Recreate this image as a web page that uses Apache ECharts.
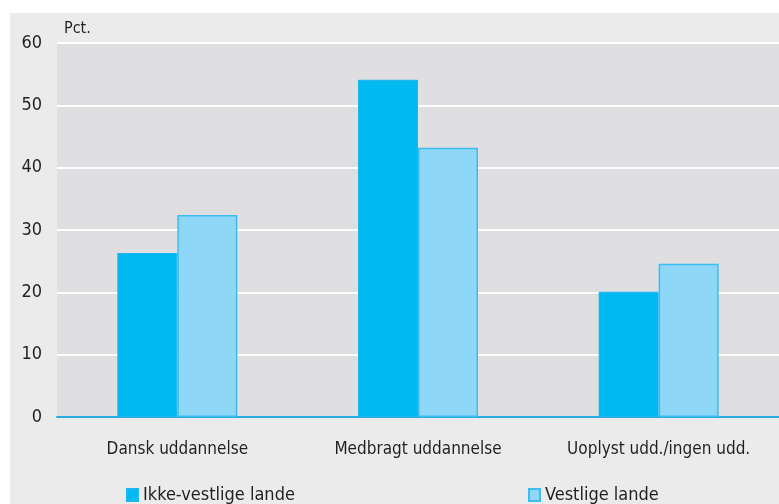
<!DOCTYPE html>
<html>
<head>
<meta charset="utf-8">
<script src="https://cdn.jsdelivr.net/npm/echarts@6/dist/echarts.min.js"></script>
<style>
  html, body { margin: 0; padding: 0; background: #ffffff; }
  #chart { width: 779px; height: 504px; }
</style>
</head>
<body>
<div id="chart"></div>
<script>
// kategorier og værdier (pct.)
const categories = ['Dansk uddannelse', 'Medbragt uddannelse', 'Uoplyst udd./ingen udd.']
const ikkeVestlige = [26.3, 54.1, 20.1]
const vestlige = [32.4, 43.2, 24.6]
const yTicks = [0, 10, 20, 30, 40, 50, 60]

const font = '"DejaVu Sans Condensed", "Liberation Sans Narrow", sans-serif'
const textColor = '#231f20'

const chart = echarts.init(document.getElementById('chart'), null, { renderer: 'canvas' })

const option = {
  animation: false,
  backgroundColor: '#ffffff',
  graphic: [
    {
      type: 'rect',
      z: -10,
      silent: true,
      shape: { x: 10, y: 13, width: 769, height: 491 },
      style: { fill: '#eaebea' }
    }
  ],
  grid: {
    left: 57,
    right: -1,
    top: 43,
    bottom: 87,
    show: true,
    backgroundColor: '#dfdfe1',
    borderWidth: 0
  },
  legend: [
    {
      data: [{ name: 'Ikke-vestlige lande', icon: 'rect' }],
      left: 121,
      top: 481,
      itemWidth: 11,
      itemHeight: 12,
      itemGap: 10,
      textStyle: { fontFamily: font, fontSize: 18, color: textColor }
    },
    {
      data: [{ name: 'Vestlige lande', icon: 'rect' }],
      left: 523,
      top: 481,
      itemWidth: 11,
      itemHeight: 12,
      textStyle: { fontFamily: font, fontSize: 18, color: textColor }
    }
  ],
  xAxis: {
    type: 'category',
    data: categories,
    axisLine: { lineStyle: { color: '#29abe2', width: 2 } },
    axisTick: { show: false },
    axisLabel: { fontFamily: font, fontSize: 17, color: textColor, margin: 24 }
  },
  yAxis: {
    type: 'value',
    min: yTicks[0],
    max: yTicks[yTicks.length - 1],
    interval: 10,
    name: 'Pct.',
    nameLocation: 'end',
    nameGap: 6,
    nameTextStyle: { fontFamily: font, fontSize: 16, color: textColor, align: 'left', padding: [0, 0, 0, 7] },
    axisLine: { show: false },
    axisTick: { show: false },
    axisLabel: { fontFamily: font, fontSize: 18, color: textColor, margin: 15 },
    splitLine: { lineStyle: { color: '#ffffff', width: 2 } }
  },
  series: [
    {
      name: 'Ikke-vestlige lande',
      type: 'bar',
      data: ikkeVestlige,
      barWidth: 60,
      barGap: '0%',
      itemStyle: { color: '#00b9f0', borderColor: '#1bb6ee', borderWidth: 1 }
    },
    {
      name: 'Vestlige lande',
      type: 'bar',
      data: vestlige,
      barWidth: 60,
      itemStyle: { color: '#8fd7f7', borderColor: '#3dbcef', borderWidth: 1.5 }
    }
  ]
}

chart.setOption(option)
</script>
</body>
</html>
